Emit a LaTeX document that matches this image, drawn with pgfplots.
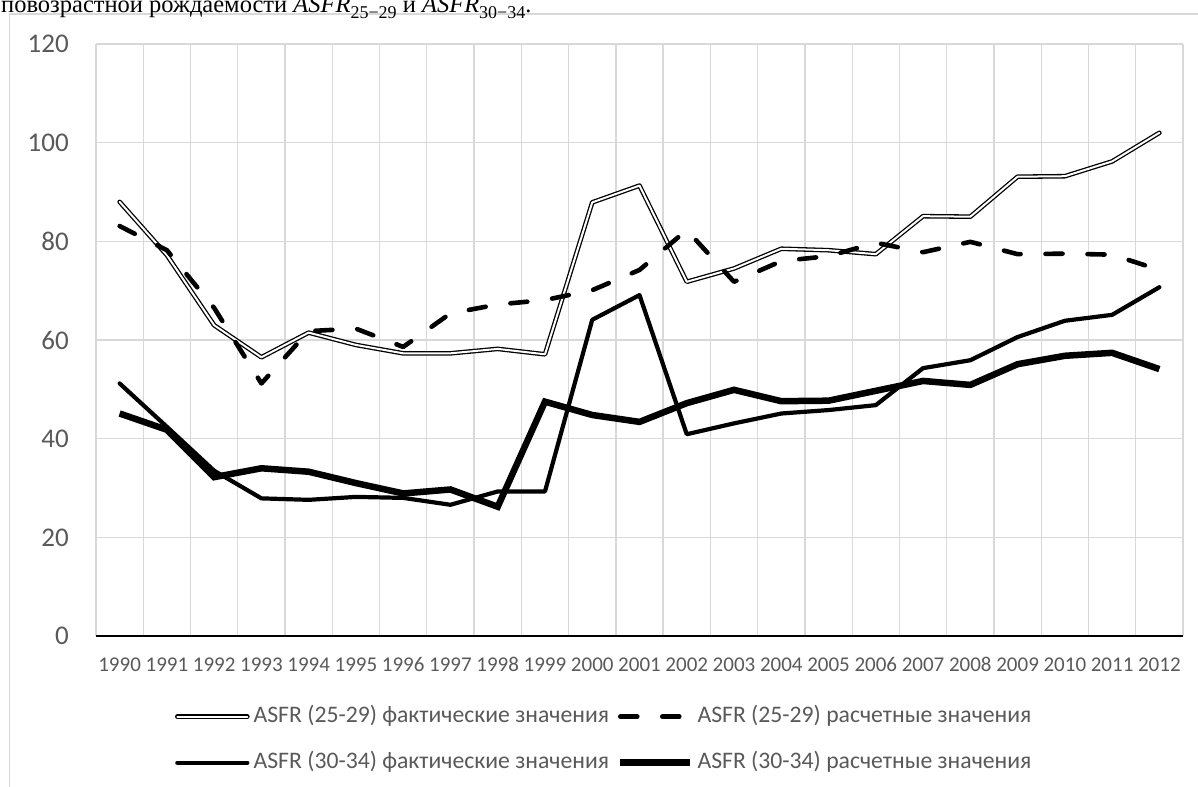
\documentclass[border=0pt]{standalone}
\usepackage{fontspec}
\setmainfont{Carlito}
\newfontfamily\capfont{Liberation Serif}
\usepackage{pgfplots}
\usepackage{pgfplotstable}
\pgfplotsset{compat=1.18}
\definecolor{gridgray}{HTML}{D9D9D9}
\definecolor{txtgray}{HTML}{595959}
\newcommand{\capsub}[1]{\raisebox{-0.28em}{\fontsize{18bp}{19bp}\selectfont #1}}

\pgfplotstableread{
x A B C D
0 88.0 83.1 51.2 45.1
1 77.2 78.2 42.4 41.8
2 63.0 66.5 33.5 32.2
3 56.5 51.2 27.9 34.0
4 61.5 61.8 27.6 33.3
5 59.0 62.3 28.2 31.0
6 57.3 58.6 28.0 28.9
7 57.3 65.4 26.6 29.7
8 58.2 67.2 29.3 26.2
9 57.1 68.1 29.3 47.5
10 87.9 70.1 64.1 44.8
11 91.3 74.2 69.1 43.4
12 71.8 82.3 40.9 47.2
13 74.5 71.8 43.1 49.9
14 78.5 76.0 45.1 47.6
15 78.2 77.0 45.8 47.7
16 77.4 79.7 46.8 49.7
17 85.1 77.8 54.3 51.7
18 85.0 79.9 55.9 50.9
19 93.1 77.4 60.6 55.1
20 93.2 77.5 63.9 56.8
21 96.2 77.3 65.1 57.4
22 102.0 74.2 70.7 54.1
}\asfr

\begin{document}
\begin{tikzpicture}
\path[use as bounding box] (0,0) rectangle (1198bp,-787bp);
\clip (0,0) rectangle (1198bp,-787bp);
\draw[gridgray, line width=1.3bp] (9.5bp,-14bp) rectangle (1300bp,-900bp);
\node[anchor=base west, inner sep=0pt] at (1bp,-12bp) {\capfont\fontsize{24.5bp}{26bp}\selectfont повозрастной рождаемости {\itshape ASFR}\capsub{25−29} и {\itshape ASFR}\capsub{30−34}.};
\begin{axis}[
  at={(96bp,-636bp)}, anchor=south west,
  width=1087bp, height=592bp, scale only axis,
  xmin=-0.5, xmax=22.5, ymin=0, ymax=120,
  xtick={0,...,22},
  xticklabels={1990,1991,1992,1993,1994,1995,1996,1997,1998,1999,2000,2001,2002,2003,2004,2005,2006,2007,2008,2009,2010,2011,2012},
  minor xtick={-0.5,0.5,...,22.5},
  xminorgrids,
  ytick={0,20,...,120},
  ymajorgrids,
  extra y ticks={0}, extra y tick labels={},
  extra y tick style={grid style={black, line width=2.7bp}},
  major tick length=0pt, minor tick length=0pt,
  axis line style={draw=none},
  grid style={gridgray, line width=1.3bp},
  minor grid style={gridgray, line width=1.3bp},
  /pgf/number format/assume math mode=true,
  xticklabel style={font=\fontsize{21bp}{24bp}\selectfont, text=txtgray, inner sep=0pt, anchor=base, yshift=-35.5bp},
  yticklabel style={font=\fontsize{27bp}{30bp}\selectfont, text=txtgray, inner sep=0pt, anchor=east, xshift=-27bp},
  legend columns=2,
  legend cell align=left,
  legend image code/.code={\draw[#1] (0bp,0bp) -- (70bp,0bp);},
  legend style={at={(axis description cs:0.0727,-0.1750)}, anchor=west,
    draw=none, fill=none, inner sep=0pt, outer sep=0pt,
    font=\fontsize{23.7bp}{28bp}\selectfont, text=txtgray,
    row sep=24bp,
    nodes={inner sep=0pt, text height=17bp, text depth=5bp},
    /tikz/every odd column/.append style={column sep=4bp},
    /tikz/every even column/.append style={column sep=8bp}},
]
\addplot[black, line width=1.3bp, double=white, double distance=2bp, line cap=round, line join=round] table[x=x,y=A]{\asfr};
\addlegendentry{ASFR (25-29) фактические значения}
\addplot[black, line width=4.6bp, dash pattern=on 17bp off 25bp, line cap=round, line join=round] table[x=x,y=B]{\asfr};
\addlegendentry{ASFR (25-29) расчетные значения}
\addplot[black, line width=4.2bp, line cap=round, line join=round] table[x=x,y=C]{\asfr};
\addlegendentry{ASFR (30-34) фактические значения}
\addplot[black, line width=6.5bp, line cap=butt, line join=miter] table[x=x,y=D]{\asfr};
\addlegendentry{ASFR (30-34) расчетные значения}
\end{axis}
\end{tikzpicture}
\end{document}
